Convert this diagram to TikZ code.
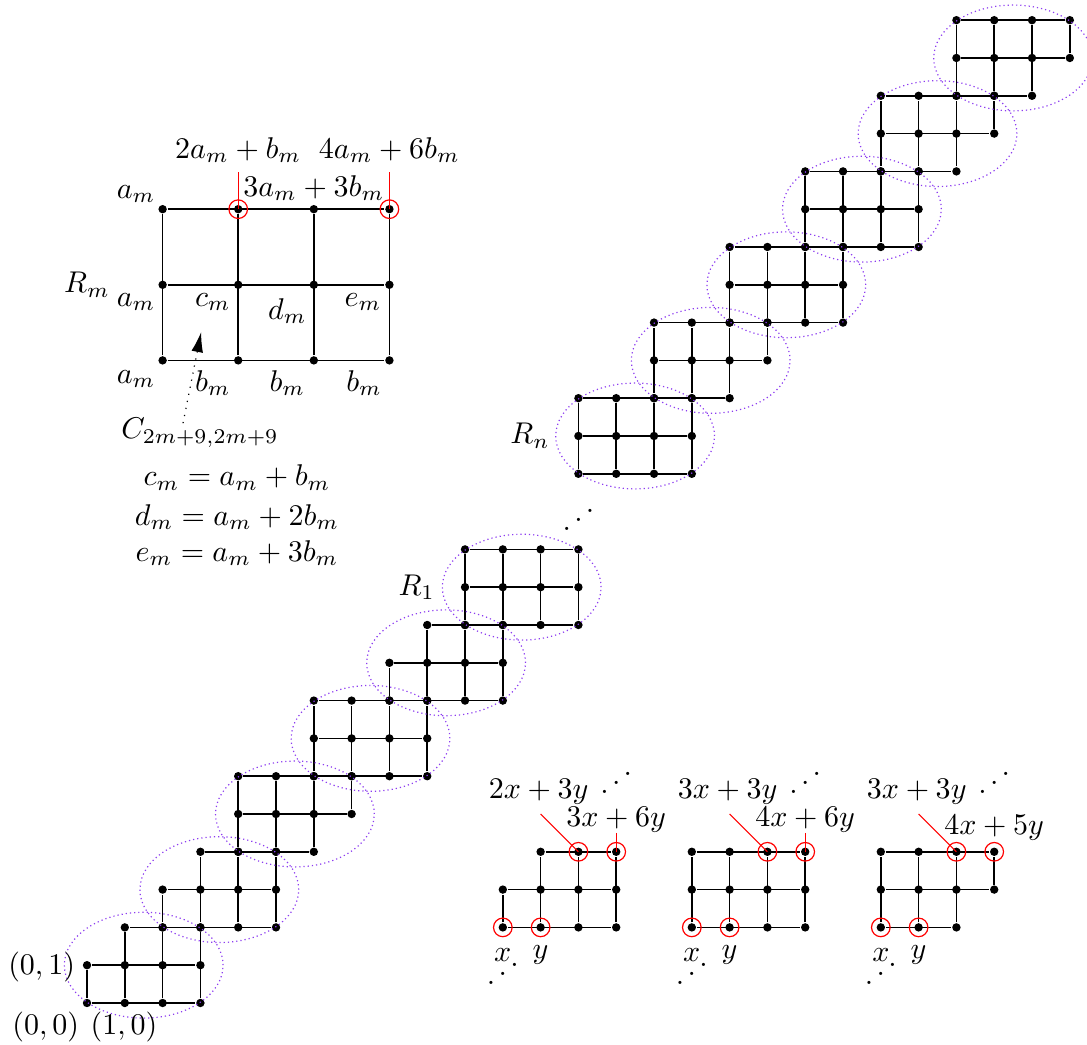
\documentclass[tikz,border=0pt]{standalone}
\usepackage{amsmath,amssymb}
\usepackage{tikz}
\usetikzlibrary{arrows.meta, positioning, calc}

\definecolor{grpviolet}{RGB}{140,60,240}
\newcommand{\rdots}{\mathinner{\mkern1mu\raisebox{1pt}{.}\mkern2mu\raisebox{4pt}{.}\mkern2mu\raisebox{7pt}{.}\mkern1mu}}

\begin{document}
\begin{tikzpicture}[x=12.6pt, y=12.6pt, line width=0.5pt,
    dot/.style={circle, fill=black, inner sep=0pt, minimum size=2.8pt},
    ring/.style={circle, draw=red, line width=0.4pt, inner sep=0pt, minimum size=6.2pt},
    group/.style={grpviolet, line width=0.4pt, densely dotted}]
  \useasboundingbox (-2.302,-1.111) rectangle (26.455,26.534);

  % Blocks: index/origin/first point of top row/last point of bottom row
  \foreach \k/\a/\b/\l/\r in {0/0/0/1/3, 1/2/2/1/3, 2/4/4/0/2, 3/6/6/0/3,
      4/8/8/1/3, 5/10/10/0/3, 6/13/14/0/3, 7/15/16/0/2, 8/17/18/0/3,
      9/19/20/0/3, 10/21/22/0/2, 11/23/24/0/2,
      12/11/2/1/3, 13/16/2/0/3, 14/21/2/0/2}{
    \begin{scope}[shift={(\a,\b)}]
      \foreach \x in {0,...,\r} \node[dot] (b\k-\x-0) at (\x,0) {};
      \foreach \x in {0,...,3} \node[dot] (b\k-\x-1) at (\x,1) {};
      \foreach \x in {\l,...,3} \node[dot] (b\k-\x-2) at (\x,2) {};
    \end{scope}
    \pgfmathtruncatemacro\t{2-\l}
    \pgfmathtruncatemacro\s{3-\r}
    \draw (b\k-0-0) -- (b\k-\r-0) (b\k-0-1) -- (b\k-3-1) (b\k-\l-2) -- (b\k-3-2);
    \draw (b\k-0-0) -- (b\k-0-\t) (b\k-1-0) -- (b\k-1-2)
          (b\k-2-0) -- (b\k-2-2) (b\k-3-\s) -- (b\k-3-2);
  }

  % Groups
  \foreach \a/\b in {0/0, 2/2, 4/4, 6/6, 8/8, 10/10, 13/14, 15/16, 17/18,
      19/20, 21/22, 23/24}
    \draw[group] (\a+1.5,\b+1) ellipse [x radius=2.1, y radius=1.4];

  \node (o-01) at (-1.2,0.95) {$(0,1)$};
  \node (o-00) at (-1.09,-0.63) {$(0,0)$};
  \node (o-10) at (0.98,-0.63) {$(1,0)$};
  \node (lab-R1) at (8.72,11) {$R_1$};
  \node (lab-Rn) at (11.72,15) {$R_n$};
  \node (gap-dots) at (13,12.75) {$\rdots$};

  % Block R_m
  \begin{scope}[shift={(2,17)}, scale=2]
    \foreach \x in {0,...,3}
      \foreach \y in {0,1,2}
        \node[dot] (m-\x-\y) at (\x,\y) {};
  \end{scope}
  \foreach \y in {0,1,2} \draw (m-0-\y) -- (m-3-\y);
  \foreach \x in {0,...,3} \draw (m-\x-0) -- (m-\x-2);
  \node[ring] (m-ring-l) at (m-1-2) {};
  \node[ring] (m-ring-r) at (m-3-2) {};
  \node (out-l) at (4,22.57) {$2a_m+b_m$};
  \node (out-r) at (8,22.57) {$4a_m+6b_m$};
  \node (out-m) at (6,21.56) {$3a_m+3b_m$};
  \coordinate (lead-l) at (4,21.98);
  \coordinate (lead-r) at (8,21.98);
  \draw[red, line width=0.4pt] (lead-l) -- (m-1-2.center);
  \draw[red, line width=0.4pt] (lead-r) -- (m-3-2.center);
  \node (lab-Rm) at (0,19) {$R_m$};
  \node (a-top) at (1.3,21.4) {$a_m$};
  \node (a-mid) at (1.3,18.55) {$a_m$};
  \node (a-bot) at (1.3,16.5) {$a_m$};
  \node (lab-c) at (3.33,18.55) {$c_m$};
  \node (lab-d) at (5.3,18.3) {$d_m$};
  \node (lab-e) at (7.3,18.55) {$e_m$};
  \foreach \x/\n in {3.33/1, 5.3/2, 7.33/3}
    \node (b-\n) at (\x,16.4) {$b_m$};
  \node (lab-C) at (2.99,15.08) {$C_{2m+9,2m+9}$};
  \coordinate (c-tail) at (2.54,15.34);
  \coordinate (c-head) at (3.02,17.75);
  \draw[dotted, line width=0.4pt, -{Latex[length=6.7pt, width=3.9pt]}] (c-tail) -- (c-head);
  \node (eq-c) at (3.97,13.9) {$c_m=a_m+b_m$};
  \node (eq-d) at (3.97,12.86) {$d_m=a_m+2b_m$};
  \node (eq-e) at (3.97,11.9) {$e_m=a_m+3b_m$};

  % Transfer pictures
  \foreach \k/\a in {12/11, 13/16, 14/21}{
    \node[ring] (r\k-x) at (b\k-0-0) {};
    \node[ring] (r\k-y) at (b\k-1-0) {};
    \node[ring] (r\k-p) at (b\k-2-2) {};
    \node[ring] (r\k-q) at (b\k-3-2) {};
    \node (in\k-x) at (\a,1.27) {$x$};
    \node (in\k-y) at (\a+1,1.27) {$y$};
    \node (dots\k-in) at (\a,0.74) {$\rdots$};
    \node (dots\k-out) at (\a+3,5.77) {$\rdots$};
    \coordinate (lead\k) at (\a+1,5);
    \draw[red, line width=0.4pt] (lead\k) -- (b\k-2-2.center);
  }
  \node (p12) at (11.95,5.58) {$2x+3y$};
  \node (q12) at (14,4.84) {$3x+6y$};
  \node (p13) at (16.95,5.58) {$3x+3y$};
  \node (q13) at (19,4.84) {$4x+6y$};
  \node (p14) at (21.95,5.58) {$3x+3y$};
  \node (q14) at (24,4.63) {$4x+5y$};
  \coordinate (vert12) at (14,4.5);
  \coordinate (vert13) at (19,4.5);
  \draw[red, line width=0.4pt] (vert12) -- (b12-3-2.center);
  \draw[red, line width=0.4pt] (vert13) -- (b13-3-2.center);
\end{tikzpicture}
\end{document}
